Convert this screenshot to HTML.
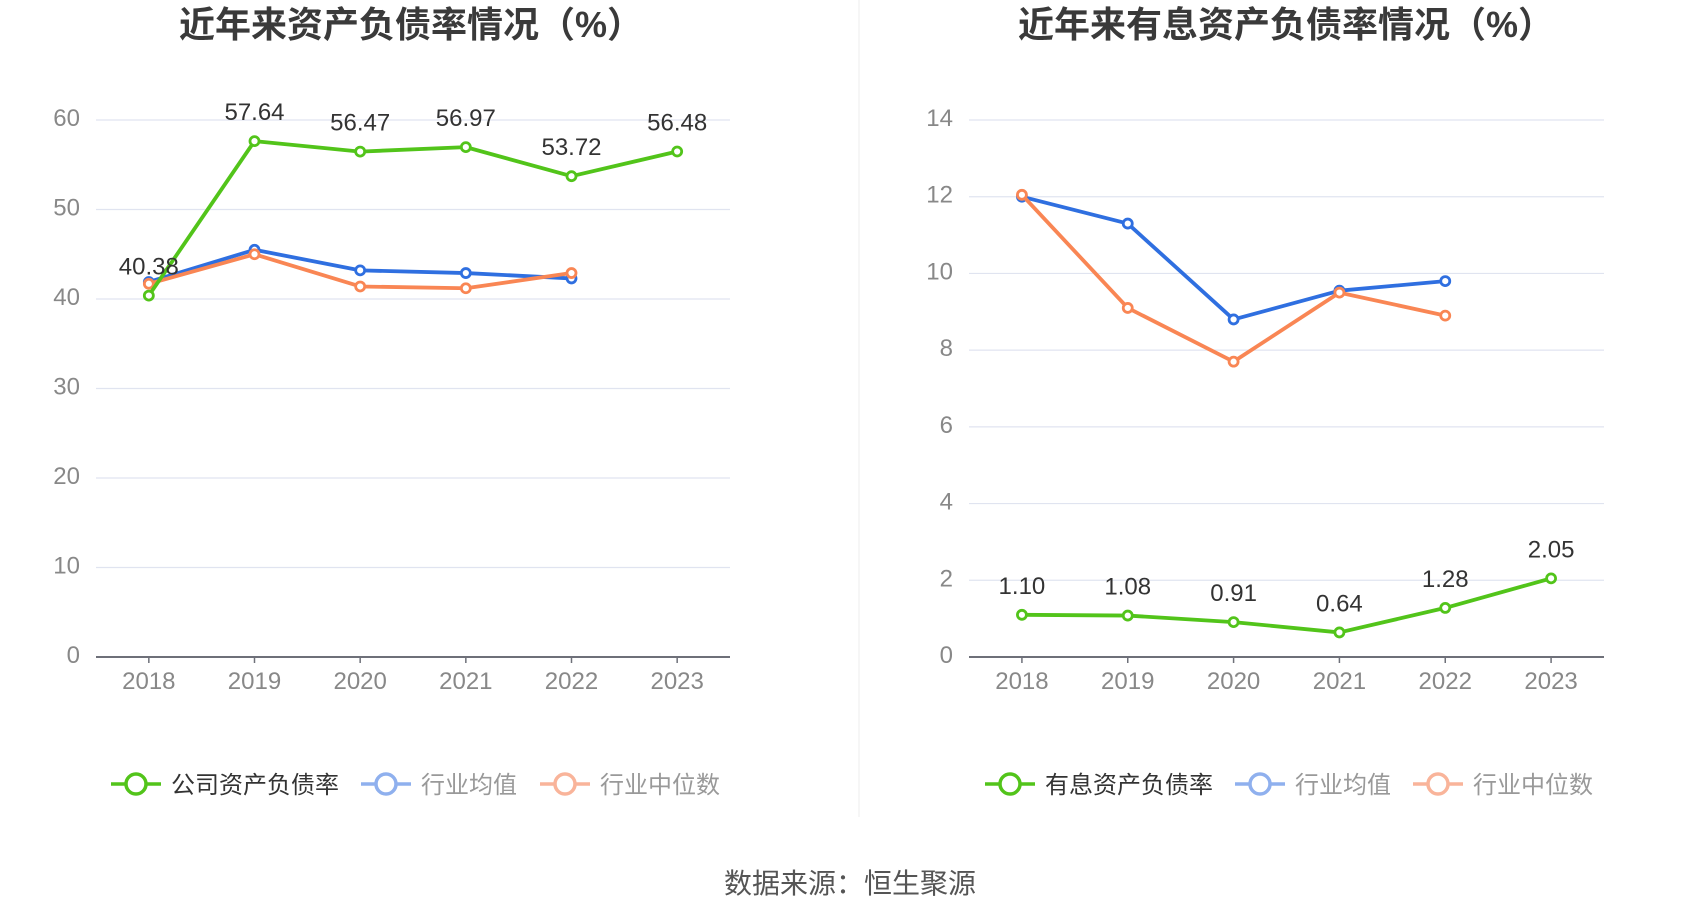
<!DOCTYPE html>
<html><head><meta charset="utf-8"><style>
html,body{margin:0;padding:0;background:#fff;}
svg text{font-family:"Liberation Sans","Noto Sans CJK SC",sans-serif;}
</style></head><body>
<svg id="c" width="1700" height="918" xmlns="http://www.w3.org/2000/svg">
<line x1="859" y1="0" x2="859" y2="817" stroke="#eeeeee" stroke-width="1"/>
<text x="411" y="37" text-anchor="middle" font-size="36" font-weight="bold" fill="#3a3a3a">近年来资产负债率情况（%）</text>
<text x="1286" y="37" text-anchor="middle" font-size="36" font-weight="bold" fill="#3a3a3a">近年来有息资产负债率情况（%）</text>
<text x="850" y="893" text-anchor="middle" font-size="28" fill="#555">数据来源：恒生聚源</text>
</svg>
<script>
const years=["2018","2019","2020","2021","2022","2023"];
const leftTicks=[0,10,20,30,40,50,60];
const leftCompany=[40.38,57.64,56.47,56.97,53.72,56.48];
const leftAvg=[41.9,45.5,43.2,42.9,42.3];
const leftMedian=[41.7,45.0,41.4,41.2,42.9];
const rightTicks=[0,2,4,6,8,10,12,14];
const rightCompany=[1.10,1.08,0.91,0.64,1.28,2.05];
const rightAvg=[12.0,11.3,8.8,9.55,9.8];
const rightMedian=[12.05,9.1,7.7,9.5,8.9];
const leftLegend=["公司资产负债率","行业均值","行业中位数"];
const rightLegend=["有息资产负债率","行业均值","行业中位数"];

const svg=document.getElementById('c');
const NS="http://www.w3.org/2000/svg";
function mk(tag,attrs){const e=document.createElementNS(NS,tag);for(const k in attrs)e.setAttribute(k,attrs[k]);svg.appendChild(e);return e;}
const G="#52c41a",B="#2f6fe0",O="#f98654";

function panel(p,x0,x1,ymax,ticks,comp,avg,med,leg,legX){
  const y0=657,yt=120,band=(x1-x0)/years.length;
  const xs=i=>x0+band*(i+0.5);
  const ys=v=>y0-(v/ymax)*(y0-yt);
  ticks.forEach(t=>{
    if(t>0){const l=mk('line',{x1:x0,x2:x1,y1:ys(t),y2:ys(t),stroke:'#e0e4f0','stroke-width':1.2});
    
    }
    const tx=mk('text',{x:x0-16,y:ys(t)+6,'text-anchor':'end','font-size':24,fill:'#888'});
    tx.textContent=t;
    
    
  });
  const ax=mk('line',{x1:x0,x2:x1,y1:y0,y2:y0,stroke:'#6e7079','stroke-width':2});
  
  
  years.forEach((yr,i)=>{
    const tk=mk('line',{x1:xs(i),x2:xs(i),y1:y0,y2:y0+6,stroke:'#6e7079','stroke-width':1.5});
    
    
    const t=mk('text',{x:xs(i),y:y0+32,'text-anchor':'middle','font-size':24,fill:'#888'});
    t.textContent=yr;
    
    
  });
  function series(vals,col,name,labels){
    const pts=vals.map((v,i)=>xs(i)+','+ys(v)).join(' ');
    const pl=mk('polyline',{points:pts,fill:'none',stroke:col,'stroke-width':3.8,'stroke-linejoin':'round'});
    
    
    vals.forEach((v,i)=>{
      const c=mk('circle',{cx:xs(i),cy:ys(v),r:4.5,fill:'#fff',stroke:col,'stroke-width':2.8});
      
      
      if(labels){
        const t=mk('text',{x:xs(i),y:ys(v)-21,'text-anchor':'middle','font-size':24,fill:'#333'});
        t.textContent=v.toFixed(2);
        
        
      }
    });
  }
  series(avg,B,'industry-avg',false);
  series(med,O,'industry-median',false);
  series(comp,G,'company',true);
  const lcols=[G,"#8fb0ee","#f9b49a"],tcols=["#333","#999","#999"];
  const names=['legend-company','legend-industry-avg','legend-industry-median'];
  leg.forEach((s,i)=>{
    const lx=legX[i],ly=784;
    const l=mk('line',{x1:lx,x2:lx+50,y1:ly,y2:ly,stroke:lcols[i],'stroke-width':3.5});
    
    
    const c=mk('circle',{cx:lx+25,cy:ly,r:10,fill:'#fff',stroke:lcols[i],'stroke-width':3.5});
    
    
    const t=mk('text',{x:lx+60,y:ly+9,'font-size':24,fill:tcols[i]});
    t.textContent=s;
    
    
  });
}
panel('left',96,730,60,leftTicks,leftCompany,leftAvg,leftMedian,leftLegend,[111,361,540]);
panel('right',969,1604,14,rightTicks,rightCompany,rightAvg,rightMedian,rightLegend,[985,1235,1413]);
</script>
</body></html>
